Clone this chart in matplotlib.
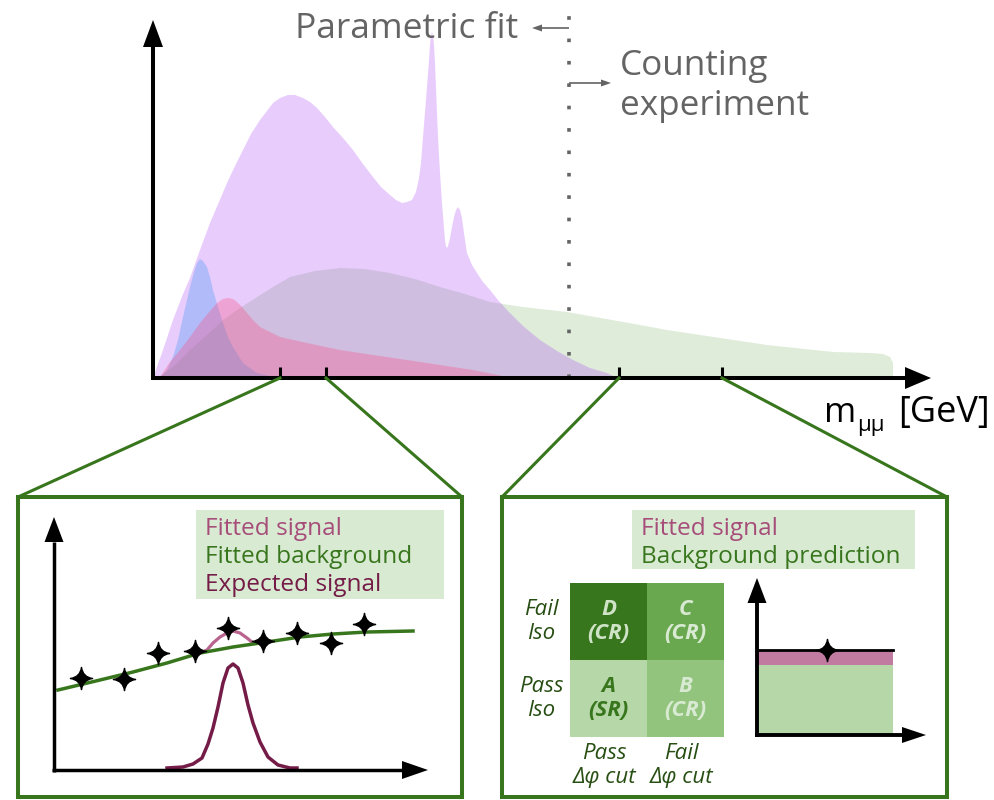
import matplotlib
matplotlib.use("Agg")
import matplotlib.pyplot as plt
from matplotlib.path import Path
import numpy as np

plt.rcParams['font.family'] = ['Open Sans', 'DejaVu Sans']

# ---------------- data (arbitrary units) ----------------
# main m_mumu spectrum: x along axis, y = height above axis
bkg_x = [0, 7, 22, 37, 54, 70, 87, 104, 120, 137, 162, 187, 212, 237, 262, 287, 312, 337,
         370, 414, 487, 514, 614, 680, 717, 730, 737, 740, 740]
bkg_y = [0, 1, 13, 28, 43, 58, 70, 81, 91, 101, 107, 110, 109, 105, 99, 91, 84, 76,
         71, 66, 53, 48, 33, 26, 25, 24, 21, 15, 0]
dy_x = [0, 10, 20, 30, 37, 47, 57, 66, 74, 82, 90, 98, 107, 114, 120, 127, 135, 142, 150,
        157, 164, 172, 180, 190, 200, 210, 220, 228, 237, 243, 249, 254, 259, 263, 266, 268,
        270, 272, 274, 276, 277, 278, 279, 280, 281, 282, 283, 285, 287, 289, 291, 292, 293,
        294, 295, 297, 299, 301, 303, 305, 307, 309, 311, 314, 319, 324, 330, 337, 345, 354,
        370, 387, 404, 420, 437, 454, 464]
dy_y = [0, 28, 58, 84, 100, 128, 155, 176, 195, 212, 228, 244, 258, 267, 275, 280, 283, 283, 280,
        276, 270, 261, 251, 240, 228, 214, 201, 191, 183, 178, 175, 176, 178, 186, 200, 215,
        241, 266, 291, 318, 333, 342, 346, 342, 333, 315, 290, 241, 205, 175, 150, 138, 132,
        130, 132, 140, 151, 161, 168, 171, 168, 160, 145, 125, 113, 105, 96, 88, 78, 68,
        52, 38, 27, 18, 10, 5, 0]
low_x = [0, 7, 14, 20, 25, 30, 34, 37, 41, 44, 47, 50, 54, 57, 60, 65, 70, 75, 80, 90,
         104, 120, 137]
low_y = [0, 1, 8, 21, 38, 61, 78, 91, 106, 115, 119, 117, 111, 101, 88, 71, 55, 41, 31, 15,
         5, 1, 0]
sig_x = [0, 7, 17, 27, 37, 47, 57, 64, 70, 75, 80, 84, 89, 94, 100, 107, 117, 127, 154,
         187, 220, 254, 287, 320, 354, 367]
sig_y = [0, 1, 16, 28, 41, 55, 67, 75, 79, 80, 79, 76, 71, 65, 58, 51, 46, 41, 35,
         28, 23, 18, 13, 8, 1, 0]
ticks_main = [127, 173, 466, 569]
boundary = 416

# left zoom: parametric fit
fit_bkg_x = [4, 46, 79, 113, 146, 179, 213, 246, 279, 313, 359]
fit_bkg_y = [80, 90, 98, 107, 117, 123, 128, 133, 136, 138, 139]
fit_sig_x = [146, 153, 159, 166, 173, 179, 186, 193, 199, 206]
fit_sig_y = [117, 120, 127, 133, 137, 139, 137, 132, 127, 127]
exp_sig_x = [113, 129, 139, 148, 154, 159, 164, 169, 174, 179, 184, 189, 194, 199, 206,
             214, 224, 236, 243]
exp_sig_y = [2, 3, 6, 12, 26, 42, 63, 87, 102, 106, 102, 87, 65, 47, 28, 13, 5, 2, 2]
pts_x = [27, 70, 104, 141, 174, 209, 243, 277, 310]
pts_y = [92, 91, 117, 119, 142, 129, 137, 127, 146]

# right zoom: ABCD + counting
cells = ['A\n(SR)', 'B\n(CR)', 'D\n(CR)', 'C\n(CR)']
cell_col = [0, 1, 0, 1]
cell_row = [0, 0, 1, 1]
cell_colors = ['#b6d7a8', '#93c47d', '#38761d', '#6aa84f']
cell_text = ['#38761d', '#d9ead3', '#cfe3c6', '#d9ead3']
row_labels = ['Pass\nIso', 'Fail\nIso']
col_labels = ['Pass\nΔφ cut', 'Fail\nΔφ cut']
count_bkg = 70
count_sig = 15
count_obs = 85

GREEN = '#38761d'
GREY = '#646464'
W, H = 994, 800

fig = plt.figure(figsize=(W / 100, H / 100), dpi=100)


def px_axes(x0, y0, x1, y1, z=1):
    a = fig.add_axes([x0 / W, 1 - y1 / H, (x1 - x0) / W, (y1 - y0) / H], zorder=z)
    a.set_xlim(0, x1 - x0)
    a.set_ylim(0, y1 - y0)
    a.axis('off')
    return a


# 4-point star marker
c = 0.12
star = Path([(0, 1), (c, c), (1, 0), (c, -c), (0, -1), (-c, -c), (-1, 0), (-c, c), (0, 1), (0, 1)],
            [Path.MOVETO] + [Path.CURVE3] * 8 + [Path.CLOSEPOLY])

# ---------------- main spectrum ----------------
ax = px_axes(153, 22, 930, 378)
ax.fill(bkg_x, bkg_y, color='#dfecda', lw=0)
ax.fill(dy_x, dy_y, color=(167/255, 55/255, 247/255), alpha=0.25, lw=0)
ax.fill(low_x, low_y, color=(56/255, 150/255, 246/255), alpha=0.3, lw=0)
ax.fill(sig_x, sig_y, color=(250/255, 80/255, 130/255), alpha=0.33, lw=0)
ax.plot([boundary, boundary], [0, 371], color=GREY, lw=2.6,
        linestyle=(0, (1, 5.2)), clip_on=False)
for t in ticks_main:
    ax.plot([t, t], [0, 11], color='black', lw=2.2, solid_capstyle='butt')

# ---------------- left zoom ----------------
axl = px_axes(54, 517, 427, 770)
axl.plot(fit_sig_x, fit_sig_y, color='#b8648f', lw=2.3)
axl.plot(fit_bkg_x, fit_bkg_y, color=GREEN, lw=2.5)
axl.plot(exp_sig_x, exp_sig_y, color='#741b47', lw=2.5, solid_joinstyle='round')
axl.plot(pts_x, pts_y, ls='none', marker=star, ms=16, color='black')

# ---------------- ABCD grid ----------------
axg = px_axes(570, 583, 724, 737)
axg.set_xlim(0, 2)
axg.set_ylim(0, 2)
axg.bar(cell_col, [1] * 4, bottom=cell_row, width=1, align='edge', color=cell_colors, lw=0)
for lab, cx, cy, tc in zip(cells, cell_col, cell_row, cell_text):
    axg.text(cx + 0.5, cy + 0.5, lab, color=tc, ha='center', va='center', fontsize=16,
             fontweight='bold', fontstyle='italic', linespacing=1.15)
for i, lab in enumerate(row_labels):
    axg.text(-0.37, i + 0.5, lab, color='#274e13', ha='center', va='center', fontsize=16,
             fontstyle='italic', linespacing=1.15)
for i, lab in enumerate(col_labels):
    axg.text(i + 0.45, -0.08, lab, color='#274e13', ha='center', va='top', fontsize=16,
             fontstyle='italic', linespacing=1.15)

# ---------------- counting plot ----------------
axc = px_axes(757, 578, 925, 735)
axc.bar([0], [count_bkg], width=136, align='edge', color='#b6d7a8', lw=0)
axc.bar([0], [count_sig], bottom=[count_bkg], width=136, align='edge', color='#c27ba0', lw=0)
axc.plot([0, 136], [count_obs, count_obs], color='black', lw=2)
axc.plot([70], [count_obs], ls='none', marker=star, ms=16, color='black')

# ---------------- overlay: arrows, boxes, text ----------------
ov = fig.add_axes([0, 0, 1, 1], zorder=5)
ov.set_xlim(0, W)
ov.set_ylim(H, 0)
ov.axis('off')
ov.patch.set_alpha(0)


def arrow(x0, y0, x1, y1, lw, hl, hw, col='black'):
    d = np.array([x1 - x0, y1 - y0], float)
    L = np.hypot(*d)
    u = d / L
    n = np.array([-u[1], u[0]])
    base = np.array([x1, y1]) - u * hl
    ov.plot([x0, base[0]], [y0, base[1]], color=col, lw=lw, solid_capstyle='butt')
    tri = [base + n * hw / 2, base - n * hw / 2, (x1, y1)]
    ov.fill([p[0] for p in tri], [p[1] for p in tri], color=col, lw=0)


arrow(153, 380, 153, 20, 2.9, 27, 20)
arrow(151, 378, 931, 378, 2.9, 26, 22)
arrow(54, 772, 54, 517, 2.5, 25, 19)
arrow(52, 770, 428, 770, 2.5, 26, 18)
arrow(757, 737, 757, 578, 2.8, 25, 19)
arrow(755, 735, 926, 735, 2.8, 24, 16)
arrow(569, 28, 532, 28, 1.2, 10, 7, GREY)
arrow(569, 83, 611, 83, 1.2, 10, 7, GREY)

# connectors and zoom boxes
for (xa, xb) in [(280, 18), (326, 462), (619, 502), (722, 947)]:
    ov.plot([xa, xb], [378, 497], color=GREEN, lw=2.2)
for (x0, x1) in [(18, 462), (502, 947)]:
    ov.plot([x0, x1, x1, x0, x0], [497, 497, 797, 797, 497], color=GREEN, lw=2.9,
            solid_joinstyle='miter')

ov.text(518, 38, 'Parametric fit', color=GREY, fontsize=25.5, ha='right', va='baseline')
ov.text(620, 75, 'Counting', color=GREY, fontsize=25.3, ha='left', va='baseline')
ov.text(620, 115, 'experiment', color=GREY, fontsize=25.3, ha='left', va='baseline')
ov.text(824, 422, 'm', color='black', fontsize=25, ha='left', va='baseline')
ov.text(857, 431, 'μμ', color='black', fontsize=16, ha='left', va='baseline')
ov.text(898, 422, '[GeV]', color='black', fontsize=26, ha='left', va='baseline')

# legend boxes
ov.fill([196, 444, 444, 196], [510, 510, 599, 599], color='#d9ead3', lw=0)
ov.text(205, 535, 'Fitted signal', color='#a64d79', fontsize=17.6, va='baseline')
ov.text(205, 563, 'Fitted background', color=GREEN, fontsize=17.6, va='baseline')
ov.text(205, 591, 'Expected signal', color='#741b47', fontsize=17.6, va='baseline')
ov.fill([632, 915, 915, 632], [510, 510, 569, 569], color='#d9ead3', lw=0)
ov.text(641, 535, 'Fitted signal', color='#a64d79', fontsize=17.6, va='baseline')
ov.text(641, 563, 'Background prediction', color=GREEN, fontsize=17.6, va='baseline')

fig.savefig('out.png', dpi=100)
